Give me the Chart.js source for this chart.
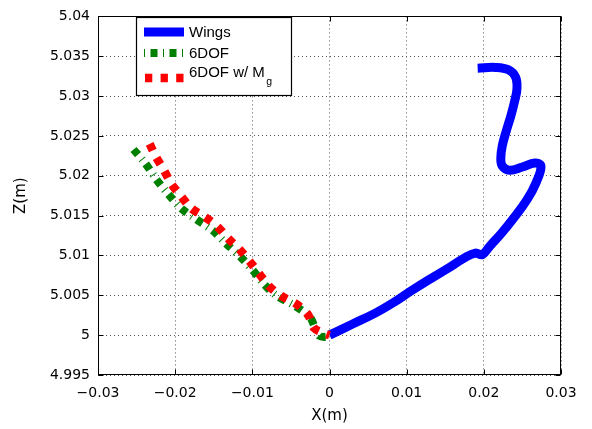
<!DOCTYPE html>
<html lang="en">
<head>
<meta charset="UTF-8">
<script src="https://cdn.jsdelivr.net/npm/chart.js"></script>
<style>
  html, body { margin: 0; padding: 0; background: #ffffff; }
  canvas { display: block; }
</style>
</head>
<body>
<canvas id="trajChart" width="592" height="429"></canvas>
<script>
// Trajectories in the X-Z plane (metres)
const wingsX = [0.0000, 0.0030, 0.0058, 0.0083, 0.0105, 0.0128, 0.0152, 0.0175, 0.0189, 0.0198, 0.0208,
  0.0223, 0.0238, 0.0256, 0.0268, 0.0274, 0.0266, 0.0250, 0.0233, 0.0224, 0.0222, 0.0224, 0.0229, 0.0235, 0.0240,
  0.0243, 0.0241, 0.0232, 0.0215, 0.0192];
const wingsZ = [5.0000, 5.0014, 5.0027, 5.0041, 5.0055, 5.0069, 5.0083, 5.0097, 5.0103, 5.0101, 5.0112,
  5.0128, 5.0146, 5.0170, 5.0192, 5.0212, 5.0216, 5.0211, 5.0207, 5.0212, 5.0222, 5.0238, 5.0256, 5.0275, 5.0294,
  5.0310, 5.0324, 5.0333, 5.0336, 5.0335];

const dofX = [-0.0254, -0.0239, -0.0224, -0.0209, -0.0192, -0.0172, -0.0151, -0.0133, -0.0115, -0.0099, -0.0084, -0.0068,
  -0.0045, -0.0025, -0.0019, -0.0013, -0.0003, 0.0000];
const dofZ = [5.0233, 5.0216, 5.0195, 5.0177, 5.0159, 5.0145, 5.0131, 5.0114, 5.0098, 5.0081, 5.0063, 5.0049,
  5.0037, 5.0022, 5.0010, 4.9999, 4.9998, 5.0000];

const dofMgX = [-0.0233, -0.0225, -0.0215, -0.0205, -0.0192, -0.0179, -0.0161, -0.0145, -0.0131, -0.0117, -0.0103, -0.0091,
  -0.0078, -0.0062, -0.0043, -0.0028, -0.0020, -0.0006, 0.0000];
const dofMgZ = [5.0240, 5.0224, 5.0208, 5.0190, 5.0174, 5.0159, 5.0148, 5.0136, 5.0121, 5.0108, 5.0092, 5.0077,
  5.0061, 5.0049, 5.0039, 5.0026, 5.0009, 5.0002, 5.0000];

const xTicks = [-0.03, -0.02, -0.01, 0, 0.01, 0.02, 0.03];
const zTicks = [4.995, 5, 5.005, 5.01, 5.015, 5.02, 5.025, 5.03, 5.035, 5.04];

const seriesNames = ['Wings', '6DOF', '6DOF w/ M'];

const toPoints = (xs, ys) => xs.map((x, i) => ({ x: x, y: ys[i] }));
const fmt = v => String(parseFloat(Number(v).toFixed(4))).replace('-', '\u2212');
const AXIS_FONT = '"DejaVu Sans", Verdana, sans-serif';
const LEGEND_FONT = '"Liberation Sans", Arial, Helvetica, sans-serif';

// box around the axes plus inward tick marks on all four sides
const framePlugin = {
  id: 'frame',
  afterDraw(chart) {
    const ctx = chart.ctx;
    const a = chart.chartArea;
    const xs = chart.scales.x, ys = chart.scales.y;
    const L = Math.round(a.left) + 0.5, R = Math.round(a.right) - 0.5;
    const T = Math.round(a.top) + 0.5, B = Math.round(a.bottom) - 0.5;
    ctx.save();
    ctx.strokeStyle = '#000';
    ctx.lineWidth = 1;
    ctx.setLineDash([]);
    ctx.strokeRect(L, T, R - L, B - T);
    ctx.beginPath();
    xTicks.forEach(v => {
      const px = Math.round(xs.getPixelForValue(v)) + 0.5;
      ctx.moveTo(px, B); ctx.lineTo(px, B - 5);
      ctx.moveTo(px, T); ctx.lineTo(px, T + 5);
    });
    zTicks.forEach(v => {
      const py = Math.round(ys.getPixelForValue(v)) + 0.5;
      ctx.moveTo(L, py); ctx.lineTo(L + 5, py);
      ctx.moveTo(R, py); ctx.lineTo(R - 5, py);
    });
    ctx.stroke();
    ctx.restore();
  }
};

// MATLAB style legend box in the upper left
const legendPlugin = {
  id: 'boxLegend',
  afterDraw(chart) {
    const ctx = chart.ctx;
    const ds = chart.data.datasets;
    ctx.save();
    ctx.fillStyle = '#fff';
    ctx.fillRect(136.5, 17.5, 155, 78);
    ctx.strokeStyle = '#000';
    ctx.lineWidth = 1.2;
    ctx.strokeRect(136.5, 17.5, 155, 78);

    const rows = [
      { y: 32, x0: 144, x1: 184 },
      { y: 53, x0: 144, x1: 184 },
      { y: 78, x0: 145, x1: 184 }
    ];
    rows.forEach((r, i) => {
      const d = ds[i];
      ctx.beginPath();
      ctx.strokeStyle = d.borderColor;
      ctx.lineWidth = d.borderWidth;
      ctx.lineCap = 'butt';
      ctx.setLineDash(d.legendDash || []);
      ctx.moveTo(r.x0, r.y);
      ctx.lineTo(r.x1, r.y);
      ctx.stroke();
    });
    ctx.setLineDash([]);
    ctx.fillStyle = '#000';
    ctx.textBaseline = 'alphabetic';
    ctx.textAlign = 'left';
    ctx.font = '15px ' + LEGEND_FONT;
    ctx.fillText(seriesNames[0], 189, 37);
    ctx.fillText(seriesNames[1], 189, 57.5);
    ctx.fillText(seriesNames[2], 189, 76.5);
    const w = ctx.measureText(seriesNames[2]).width;
    ctx.font = '10.5px ' + LEGEND_FONT;
    ctx.fillText('g', 189 + w + 1.5, 85);
    ctx.restore();
  }
};

const ctx = document.getElementById('trajChart').getContext('2d');
new Chart(ctx, {
  type: 'scatter',
  data: {
    datasets: [
      {
        label: seriesNames[0],
        data: toPoints(wingsX, wingsZ),
        showLine: true,
        borderColor: '#0000ff',
        borderWidth: 9,
        borderCapStyle: 'butt',
        borderJoinStyle: 'round',
        tension: 0.4,
        pointRadius: 0,
        order: 2
      },
      {
        label: seriesNames[1],
        data: toPoints(dofX, dofZ),
        showLine: true,
        borderColor: '#008000',
        borderWidth: 8,
        borderDash: [7, 5.5, 1, 5.5],
        legendDash: [1, 5.5, 7, 5.5],
        borderCapStyle: 'butt',
        tension: 0.3,
        pointRadius: 0,
        order: 1
      },
      {
        label: seriesNames[2] + 'g',
        data: toPoints(dofMgX, dofMgZ),
        showLine: true,
        borderColor: '#ff0000',
        borderWidth: 8.5,
        borderDash: [7.3, 8.3],
        legendDash: [7.3, 8.3],
        borderCapStyle: 'butt',
        tension: 0.3,
        pointRadius: 0,
        order: 0
      }
    ]
  },
  options: {
    responsive: false,
    animation: false,
    devicePixelRatio: 1,
    layout: { padding: { top: 11, right: 31, left: 0, bottom: 0 } },
    plugins: {
      legend: { display: false },
      tooltip: { enabled: false }
    },
    scales: {
      x: {
        type: 'linear',
        min: -0.03,
        max: 0.03,
        afterBuildTicks: s => { s.ticks = xTicks.map(v => ({ value: v })); },
        afterFit: s => { s.height = 54; },
        ticks: {
          callback: fmt,
          color: '#000',
          font: { family: AXIS_FONT, size: 14 },
          padding: 10,
          maxRotation: 0,
          autoSkip: false
        },
        grid: { color: '#555', lineWidth: 1, drawTicks: false },
        border: { display: false, dash: [1, 3] },
        title: {
          display: true,
          text: 'X(m)',
          color: '#000',
          font: { family: AXIS_FONT, size: 15 },
          padding: { top: 0, bottom: 4 }
        }
      },
      y: {
        type: 'linear',
        min: 4.995,
        max: 5.04,
        afterBuildTicks: s => { s.ticks = zTicks.map(v => ({ value: v })); },
        afterFit: s => { s.width = 98; },
        ticks: {
          callback: fmt,
          color: '#000',
          font: { family: AXIS_FONT, size: 14 },
          padding: 8,
          autoSkip: false
        },
        grid: { color: '#555', lineWidth: 1, drawTicks: false },
        border: { display: false, dash: [1, 3] },
        title: {
          display: true,
          text: 'Z(m)',
          color: '#000',
          font: { family: AXIS_FONT, size: 15 },
          padding: { top: 12, bottom: 0 }
        }
      }
    }
  },
  plugins: [framePlugin, legendPlugin]
});
</script>
</body>
</html>
